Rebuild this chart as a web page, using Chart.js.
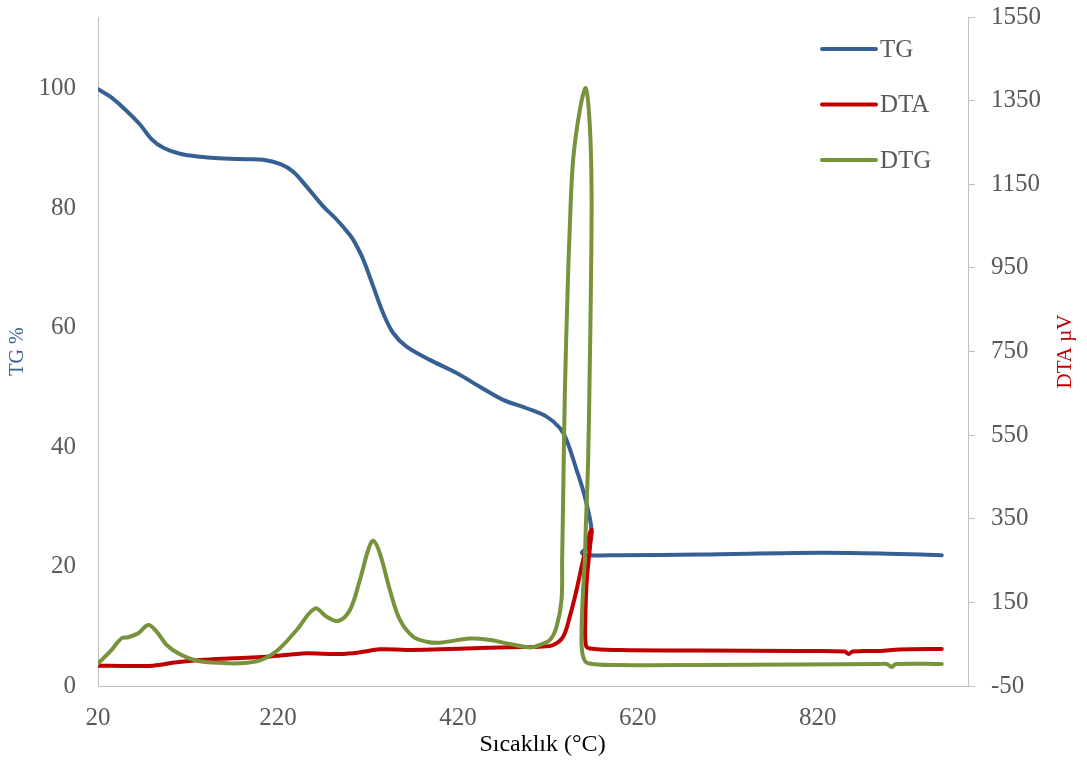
<!DOCTYPE html>
<html><head><meta charset="utf-8">
<script src="https://cdn.jsdelivr.net/npm/chart.js@4.4.1/dist/chart.umd.min.js"></script>
<style>html,body{margin:0;padding:0;background:#fff;} #wrap{width:1087px;height:765px;}</style>
</head><body><div id="wrap"><canvas id="c" width="1087" height="765"></canvas></div>
<script>
const seriesNames = ['TG', 'DTA', 'DTG'];
const seriesColors = ['#376092', '#C00000', '#77933C'];

const tgTemp = [20.3, 33.3, 48.1, 66.7, 79.7, 92.6, 111.1, 133.3, 159.2, 185.2, 203.7, 222.2, 237.0, 251.9, 270.3, 285.2, 300.0, 305.6, 314.8, 325.9, 337.0, 348.1, 363.0, 388.9, 418.6, 444.4, 470.3, 496.3, 518.6, 533.3, 540.8, 551.9, 561.1, 568.6, 565.6, 557.8, 566.7, 600, 688.9, 822.2, 911.1, 957.8];
const tgValue = [99.9, 98.7, 96.8, 94.0, 91.5, 90.1, 89.1, 88.6, 88.3, 88.2, 88.1, 87.4, 86.1, 83.6, 80.3, 78.1, 75.5, 74.2, 71.4, 66.9, 62.4, 59.1, 56.8, 54.6, 52.4, 50.1, 47.9, 46.5, 45.1, 43.2, 41.2, 36.2, 31.7, 26.1, 23.5, 22.3, 21.9, 21.9, 22.0, 22.3, 22.1, 21.9];

const dtaTemp = [20.3, 59.2, 81.4, 107.4, 133.3, 170.3, 207.4, 237.0, 251.9, 288.9, 311.1, 333.3, 363.0, 400.0, 444.4, 488.9, 511.1, 525.9, 537.0, 544.4, 551.9, 559.2, 566.7, 568.6, 563.3, 561.7, 562.2, 566.7, 600, 688.9, 800, 850, 854.4, 858.9, 888.9, 911.1, 957.8];
const dtaValue = [-1.4, -2.2, -1.4, 6.7, 12.2, 16.3, 20.1, 25.8, 28.2, 26.5, 30.6, 37.8, 36.1, 37.8, 40.9, 43.3, 44.0, 48.1, 67.9, 115.8, 179.6, 251.4, 315.3, 323.2, 203.5, 107.9, 48.1, 39.7, 36.1, 34.9, 33.7, 32.5, 26.5, 32.5, 33.7, 37.3, 38.5];

const dtgTemp = [20.3, 33.3, 46.3, 53.7, 64.8, 75.9, 85.2, 96.3, 111.1, 129.7, 151.9, 177.8, 200.0, 220.0, 240.8, 261.1, 274.1, 287.0, 300.0, 311.1, 320.3, 325.9, 333.3, 344.4, 355.6, 370.3, 385.2, 400.0, 433.3, 455.6, 477.8, 500.0, 511.1, 522.2, 529.7, 535.2, 535.9, 537.0, 538.9, 541.9, 544.4, 548.1, 555.6, 562.2, 566.7, 568.6, 567.8, 566.7, 564.8, 562.2, 561.1, 558.6, 557.4, 559.2, 564.8, 600.0, 688.9, 800.0, 888.9, 896.7, 902.2, 906.7, 957.8];
const dtgValue = [4.3, 32.0, 64.1, 66.5, 76.1, 95.9, 79.9, 48.1, 25.8, 10.5, 5.7, 4.3, 11.2, 36.1, 84.0, 135.4, 115.8, 105.5, 131.8, 203.6, 275.3, 297.6, 267.4, 179.6, 107.9, 67.9, 56.0, 53.6, 63.6, 60.0, 50.5, 42.1, 48.1, 60.0, 91.8, 155.7, 251.4, 394.9, 650.9, 890.1, 1048.7, 1208.2, 1327.8, 1379.7, 1287.9, 1129.3, 890.1, 729.8, 490.6, 331.1, 251.4, 155.7, 60.0, 20.1, 4.3, 0.2, 0.2, 1.4, 2.6, 2.6, -4.6, 2.6, 2.6];

const tempTicks = [20, 220, 420, 620, 820];
const tgTicks = [0, 20, 40, 60, 80, 100];
const dtaTicks = [-50, 150, 350, 550, 750, 950, 1150, 1350, 1550];

const xTitle = 'Sıcaklık (°C)';
const yTitle = 'TG %';
const y2Title = 'DTA µV';

const FONT = "'Liberation Serif', 'Times New Roman', serif";
const TICK_COLOR = '#595959';
const AXIS_COLOR = '#BFBFBF';

const toPoints = (xs, ys) => xs.map((x, i) => ({x: x, y: ys[i]}));

const overlay = {
  id: 'overlay',
  afterDraw(chart) {
    const {ctx, chartArea} = chart;
    ctx.save();
    // legend
    const lx = chartArea.right - 146;
    const ly = chartArea.top + 32;
    chart.data.datasets.forEach((ds, i) => {
      const y = ly + i * 55.5;
      ctx.strokeStyle = ds.borderColor;
      ctx.lineWidth = 4;
      ctx.lineCap = 'round';
      ctx.beginPath();
      ctx.moveTo(lx, y);
      ctx.lineTo(lx + 54, y);
      ctx.stroke();
      ctx.fillStyle = TICK_COLOR;
      ctx.font = '25px ' + FONT;
      ctx.textBaseline = 'middle';
      ctx.textAlign = 'left';
      ctx.fillText(ds.label, lx + 58, y + 1);
    });
    // x axis title, centred on the canvas as in the original
    ctx.fillStyle = '#000';
    ctx.font = '24px ' + FONT;
    ctx.textAlign = 'center';
    ctx.textBaseline = 'middle';
    ctx.fillText(xTitle, chart.width / 2 - 1, 745);
    // right axis title, reading bottom to top
    ctx.translate(1065, (chartArea.top + chartArea.bottom) / 2);
    ctx.rotate(-Math.PI / 2);
    ctx.fillStyle = '#C00000';
    ctx.font = '21px ' + FONT;
    ctx.fillText(y2Title, 0, 0);
    ctx.restore();
  }
};

const noPad = s => { s.paddingTop = 0; s.paddingBottom = 0; s.paddingLeft = 0; s.paddingRight = 0; };

new Chart(document.getElementById('c'), {
  type: 'scatter',
  data: {
    datasets: [
      {label: seriesNames[0], data: toPoints(tgTemp, tgValue), yAxisID: 'y', borderColor: seriesColors[0], order: 3},
      {label: seriesNames[1], data: toPoints(dtaTemp, dtaValue), yAxisID: 'y2', borderColor: seriesColors[1], order: 2},
      {label: seriesNames[2], data: toPoints(dtgTemp, dtgValue), yAxisID: 'y2', borderColor: seriesColors[2], order: 1}
    ].map(d => Object.assign(d, {showLine: true, pointRadius: 0, pointHoverRadius: 0, borderWidth: 4, tension: 0.35, fill: false, backgroundColor: d.borderColor, borderCapStyle: 'round', borderJoinStyle: 'round'}))
  },
  options: {
    responsive: false,
    animation: false,
    devicePixelRatio: 1,
    layout: {padding: {top: 17, left: 0, right: 0, bottom: 0}},
    plugins: {legend: {display: false}, tooltip: {enabled: false}},
    scales: {
      x: {
        type: 'linear', position: 'bottom', min: 20, max: 987,
        afterBuildTicks: s => { s.ticks = tempTicks.map(v => ({value: v})); },
        afterFit: s => { s.height = 79; noPad(s); },
        grid: {display: false, drawTicks: false},
        border: {display: true, color: AXIS_COLOR, width: 1},
        ticks: {color: TICK_COLOR, font: {family: FONT, size: 25}, padding: 17, maxRotation: 0, callback: v => String(v)},
        title: {display: false, text: xTitle}
      },
      y: {
        type: 'linear', position: 'left', min: 0, max: 112,
        afterBuildTicks: s => { s.ticks = tgTicks.map(v => ({value: v})); },
        afterFit: s => { s.width = 98; noPad(s); },
        grid: {display: false, drawTicks: false},
        border: {display: true, color: AXIS_COLOR, width: 1},
        ticks: {color: TICK_COLOR, font: {family: FONT, size: 25}, padding: 22, callback: v => String(v)},
        title: {display: true, text: yTitle, color: '#376092', font: {family: FONT, size: 20}, padding: {top: 6, bottom: 0}}
      },
      y2: {
        type: 'linear', position: 'right', min: -50, max: 1550,
        afterBuildTicks: s => { s.ticks = dtaTicks.map(v => ({value: v})); },
        afterFit: s => { s.width = 119; noPad(s); },
        grid: {display: true, drawOnChartArea: false, drawTicks: true, tickLength: 7, color: AXIS_COLOR, lineWidth: 1},
        border: {display: true, color: AXIS_COLOR, width: 1},
        ticks: {color: TICK_COLOR, font: {family: FONT, size: 25}, padding: 16, callback: v => String(v)}
      }
    }
  },
  plugins: [overlay]
});
</script>
</body></html>
